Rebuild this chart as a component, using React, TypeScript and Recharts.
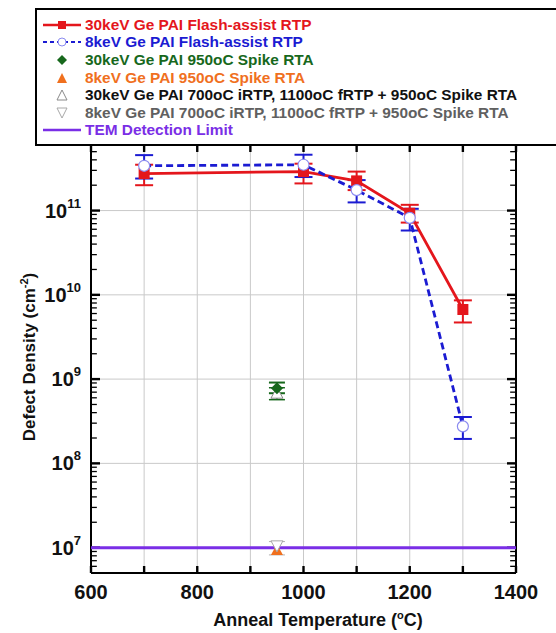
import { ComposedChart, Scatter, XAxis, YAxis, ErrorBar, ReferenceLine } from "recharts";

// flash-assist RTP series (same temperatures for both implants)
const flashTemps = [700, 1000, 1100, 1200, 1300];
const flash30 = [2.75e11, 2.9e11, 2.25e11, 9.3e10, 6.7e9];
const flash30Lo = [2.0e11, 2.1e11, 1.75e11, 7.2e10, 4.7e9];
const flash30Hi = [3.5e11, 3.6e11, 2.9e11, 1.17e11, 8.6e9];
const flash8 = [3.4e11, 3.5e11, 1.75e11, 8.2e10, 2.75e8];
const flash8Lo = [2.4e11, 2.5e11, 1.25e11, 5.8e10, 1.95e8];
const flash8Hi = [4.55e11, 4.6e11, 2.3e11, 1.05e11, 3.55e8];

// 950oC spike RTA points
const spikeTemp = 950;
const spike30 = 7.8e8;
const spike30Lo = 6.8e8;
const spike30Hi = 9.1e8;
const spike8 = 9.4e6;
const irtp30 = 6.8e8;
const irtp30Lo = 5.7e8;
const irtp30Hi = 7.9e8;
const irtp8 = 1.05e7;
const irtp8Lo = 8.2e6;
const irtp8Hi = 1.18e7;

const temLimit = 1e7;
const xDomain = [600, 1400];

const xTicks = [600, 700, 800, 900, 1000, 1100, 1200, 1300, 1400];
const xLabelTicks = [600, 800, 1000, 1200, 1400];
const xGrid = [700, 800, 900, 1000, 1100, 1200, 1300];
const decades = [1e7, 1e8, 1e9, 1e10, 1e11];
const minorSteps = [2, 3, 4, 5, 6, 7, 8, 9];
const yDomain = [5e6, 6e11];

const yMinor = [1e6, ...decades]
  .flatMap((d) => minorSteps.map((m) => m * d))
  .filter((v) => v >= yDomain[0] && v <= yDomain[1]);

// tick mark lengths in data units (temperature for y ticks, log factor for x ticks)
const majorTickLen = 17;
const minorTickLen = 11;
const xTickFactor = 1.21;

const RED = "#e4161c";
const BLUE = "#1b1bd2";
const GREEN = "#17681c";
const ORANGE = "#f0701e";
const PURPLE = "#7a2ee6";
const FONT = "'Liberation Sans', Arial, sans-serif";

function withErr(x: number[], y: number[], lo: number[], hi: number[]) {
  return x.map((t, i) => ({ x: t, y: y[i], err: [y[i] - lo[i], hi[i] - y[i]] }));
}

const flash30Data = withErr(flashTemps, flash30, flash30Lo, flash30Hi);
const flash8Data = withErr(flashTemps, flash8, flash8Lo, flash8Hi);
const spike30Data = [{ x: spikeTemp, y: spike30, err: [spike30 - spike30Lo, spike30Hi - spike30] }];
const spike8Data = [{ x: spikeTemp, y: spike8 }];
const irtp30Data = [{ x: spikeTemp, y: irtp30, err: [irtp30 - irtp30Lo, irtp30Hi - irtp30] }];
const irtp8Data = [{ x: spikeTemp, y: irtp8, err: [irtp8 - irtp8Lo, irtp8Hi - irtp8] }];
const temData = xDomain.map((t) => ({ x: t, y: temLimit }));

function Square({ cx, cy }: any) {
  return <rect x={cx - 5.5} y={cy - 5.5} width={11} height={11} fill={RED} />;
}
function OpenCircle({ cx, cy }: any) {
  return <circle cx={cx} cy={cy} r={5.5} fill="#fff" stroke="#8b8bf0" strokeWidth={1.2} />;
}
function Diamond({ cx, cy }: any) {
  return <polygon points={`${cx},${cy - 6} ${cx + 6},${cy} ${cx},${cy + 6} ${cx - 6},${cy}`} fill={GREEN} />;
}
function TriUp({ cx, cy }: any) {
  return <polygon points={`${cx},${cy - 6} ${cx + 6},${cy + 5} ${cx - 6},${cy + 5}`} fill={ORANGE} />;
}
function OpenTriUp({ cx, cy }: any) {
  return <polygon points={`${cx},${cy - 6} ${cx + 6},${cy + 5} ${cx - 6},${cy + 5}`} fill="#fff" stroke="#8a8a8a" strokeWidth={1} />;
}
function OpenTriDown({ cx, cy }: any) {
  return <polygon points={`${cx},${cy + 6} ${cx + 6},${cy - 5} ${cx - 6},${cy - 5}`} fill="#fff" stroke="#a8a8a8" strokeWidth={1} />;
}
const Nothing = () => <g />;

function BottomLabel({ x, y, payload }: any) {
  if (!xLabelTicks.includes(payload.value)) return <g />;
  return (
    <text x={x} y={y + 26} textAnchor="middle" fontFamily={FONT} fontWeight="bold" fontSize={20} fill="#111">
      {payload.value}
    </text>
  );
}
function LeftLabel({ x, y, payload }: any) {
  const exp = Math.round(Math.log10(payload.value));
  return (
    <text x={x - 10} y={y + 7} textAnchor="end" fontFamily={FONT} fontWeight="bold" fontSize={20} fill="#111">
      10
      <tspan dy={-10} fontSize={13}>
        {exp}
      </tspan>
    </text>
  );
}

function LegendIcon({ kind }: { kind: string }) {
  const c = 20;
  const m = 7;
  return (
    <svg width={40} height={14} style={{ display: "block" }}>
      {kind === "red" && (
        <>
          <line x1={1} x2={39} y1={m} y2={m} stroke={RED} strokeWidth={2.5} />
          <rect x={c - 4} y={m - 4} width={8} height={8} fill={RED} />
        </>
      )}
      {kind === "blue" && (
        <>
          <line x1={1} x2={39} y1={m} y2={m} stroke={BLUE} strokeWidth={2} strokeDasharray="4 3" />
          <circle cx={c} cy={m} r={4} fill="#fff" stroke="#8b8bf0" strokeWidth={1} />
        </>
      )}
      {kind === "green" && <polygon points={`${c},${m - 5} ${c + 5},${m} ${c},${m + 5} ${c - 5},${m}`} fill={GREEN} />}
      {kind === "orange" && <polygon points={`${c},${m - 5} ${c + 5},${m + 5} ${c - 5},${m + 5}`} fill={ORANGE} />}
      {kind === "open" && (
        <polygon points={`${c},${m - 5} ${c + 5},${m + 5} ${c - 5},${m + 5}`} fill="#fff" stroke="#8a8a8a" strokeWidth={1} />
      )}
      {kind === "down" && (
        <polygon points={`${c},${m + 5} ${c + 5},${m - 5} ${c - 5},${m - 5}`} fill="#fff" stroke="#a8a8a8" strokeWidth={1} />
      )}
      {kind === "tem" && <line x1={1} x2={39} y1={m} y2={m} stroke={PURPLE} strokeWidth={2.5} />}
    </svg>
  );
}

const legendRows = [
  { kind: "red", color: RED, label: "30keV Ge PAI Flash-assist RTP" },
  { kind: "blue", color: BLUE, label: "8keV Ge PAI Flash-assist RTP" },
  { kind: "green", color: GREEN, label: "30keV Ge PAI 950oC Spike RTA" },
  { kind: "orange", color: ORANGE, label: "8keV Ge PAI 950oC Spike RTA" },
  { kind: "open", color: "#111", label: "30keV Ge PAI 700oC iRTP, 1100oC fRTP + 950oC Spike RTA" },
  { kind: "down", color: "#606060", label: "8keV Ge PAI 700oC iRTP, 1100oC fRTP + 950oC Spike RTA" },
  { kind: "tem", color: PURPLE, label: "TEM Detection Limit" },
];

const logAxis = {
  type: "number" as const,
  scale: "log" as const,
  domain: yDomain,
  allowDataOverflow: true,
  interval: 0,
};

function yTickSegments(v: number, major: boolean) {
  const len = major ? majorTickLen : minorTickLen;
  const w = major ? 2.4 : 1.3;
  return [
    <ReferenceLine
      key={`tl${v}`}
      xAxisId="b"
      yAxisId="l"
      ifOverflow="visible"
      segment={[{ x: xDomain[0], y: v }, { x: xDomain[0] + len, y: v }]}
      stroke="#000"
      strokeWidth={w}
    />,
    <ReferenceLine
      key={`tr${v}`}
      xAxisId="b"
      yAxisId="l"
      ifOverflow="visible"
      segment={[{ x: xDomain[1] - len, y: v }, { x: xDomain[1], y: v }]}
      stroke="#000"
      strokeWidth={w}
    />,
  ];
}

export default function App() {
  return (
    <div style={{ position: "fixed", left: 0, top: 0, width: 556, height: 633, overflow: "hidden", background: "#fff" }}>
      <ComposedChart width={556} height={633} margin={{ top: 145, right: 0, bottom: 0, left: 0 }}>
        {xGrid.map((v) => (
          <ReferenceLine key={`gx${v}`} xAxisId="b" yAxisId="l" x={v} stroke="#c9c9c9" strokeWidth={1} />
        ))}
        {decades.map((v) => (
          <ReferenceLine key={`gy${v}`} xAxisId="b" yAxisId="l" y={v} stroke="#c9c9c9" strokeWidth={1} />
        ))}
        <XAxis
          xAxisId="b"
          dataKey="x"
          type="number"
          domain={xDomain}
          ticks={xTicks}
          interval={0}
          height={60}
          tickSize={0}
          tickMargin={0}
          tickLine={false}
          axisLine={{ stroke: "#000", strokeWidth: 2 }}
          tick={<BottomLabel />}
        />
        <XAxis
          xAxisId="t"
          orientation="top"
          type="number"
          domain={xDomain}
          height={0}
          tickLine={false}
          axisLine={{ stroke: "#000", strokeWidth: 2 }}
          tick={false}
        />
        <YAxis
          yAxisId="l"
          dataKey="y"
          {...logAxis}
          ticks={decades}
          width={91}
          tickSize={0}
          tickMargin={0}
          tickLine={false}
          axisLine={{ stroke: "#000", strokeWidth: 2 }}
          tick={<LeftLabel />}
        />
        <YAxis
          yAxisId="r"
          orientation="right"
          {...logAxis}
          ticks={decades}
          width={40}
          tickLine={false}
          axisLine={{ stroke: "#000", strokeWidth: 2 }}
          tick={false}
        />
        <Scatter
          xAxisId="b"
          yAxisId="l"
          data={temData}
          line={{ stroke: PURPLE, strokeWidth: 3, fill: "none" }}
          shape={<Nothing />}
          isAnimationActive={false}
        />
        <Scatter
          xAxisId="b"
          yAxisId="l"
          data={flash30Data}
          line={{ stroke: RED, strokeWidth: 2.8, fill: "none" }}
          shape={<Square />}
          isAnimationActive={false}
        >
          <ErrorBar dataKey="err" direction="y" width={9} stroke={RED} strokeWidth={2} isAnimationActive={false} />
        </Scatter>
        <Scatter
          xAxisId="b"
          yAxisId="l"
          data={flash8Data}
          line={{ stroke: BLUE, strokeWidth: 2.8, strokeDasharray: "7 4", fill: "none" }}
          shape={<OpenCircle />}
          isAnimationActive={false}
        >
          <ErrorBar dataKey="err" direction="y" width={9} stroke={BLUE} strokeWidth={2} isAnimationActive={false} />
        </Scatter>
        <Scatter xAxisId="b" yAxisId="l" data={spike8Data} shape={<TriUp />} isAnimationActive={false} />
        <Scatter xAxisId="b" yAxisId="l" data={irtp8Data} shape={<OpenTriDown />} isAnimationActive={false}>
          <ErrorBar dataKey="err" direction="y" width={8} stroke="#b0b0b0" strokeWidth={1} isAnimationActive={false} />
        </Scatter>
        <Scatter xAxisId="b" yAxisId="l" data={irtp30Data} shape={<OpenTriUp />} isAnimationActive={false}>
          <ErrorBar dataKey="err" direction="y" width={8} stroke={GREEN} strokeWidth={1.5} isAnimationActive={false} />
        </Scatter>
        <Scatter xAxisId="b" yAxisId="l" data={spike30Data} shape={<Diamond />} isAnimationActive={false}>
          <ErrorBar dataKey="err" direction="y" width={8} stroke={GREEN} strokeWidth={2} isAnimationActive={false} />
        </Scatter>
        {decades.flatMap((v) => yTickSegments(v, true))}
        {yMinor.flatMap((v) => yTickSegments(v, false))}
        {xTicks.map((t) => (
          <ReferenceLine
            key={`tb${t}`}
            xAxisId="b"
            yAxisId="l"
            ifOverflow="visible"
            segment={[{ x: t, y: yDomain[0] }, { x: t, y: yDomain[0] * xTickFactor }]}
            stroke="#000"
            strokeWidth={2.4}
          />
        ))}
        {xTicks.map((t) => (
          <ReferenceLine
            key={`tt${t}`}
            xAxisId="b"
            yAxisId="l"
            ifOverflow="visible"
            segment={[{ x: t, y: yDomain[1] / xTickFactor }, { x: t, y: yDomain[1] }]}
            stroke="#000"
            strokeWidth={2.4}
          />
        ))}
      </ComposedChart>

      <div
        style={{
          position: "absolute",
          left: 35,
          top: 8,
          width: 600,
          height: 138,
          boxSizing: "border-box",
          border: "2px solid #000",
          background: "#fff",
          paddingTop: 6,
          fontFamily: FONT,
          fontWeight: "bold",
          fontSize: 15.4,
        }}
      >
        {legendRows.map((r) => (
          <div key={r.label} style={{ display: "flex", alignItems: "center", height: 17.6, whiteSpace: "nowrap" }}>
            <div style={{ marginLeft: 5, marginRight: 3 }}>
              <LegendIcon kind={r.kind} />
            </div>
            <span style={{ color: r.color }}>{r.label}</span>
          </div>
        ))}
      </div>

      <div
        style={{
          position: "absolute",
          left: 29,
          top: 357,
          transform: "translate(-50%, -50%) rotate(-90deg)",
          whiteSpace: "nowrap",
          fontFamily: FONT,
          fontWeight: "bold",
          fontSize: 17,
          color: "#111",
        }}
      >
        Defect Density (cm<sup style={{ fontSize: 11 }}>-2</sup>)
      </div>
      <div
        style={{
          position: "absolute",
          left: 318,
          top: 620,
          transform: "translate(-50%, -50%)",
          whiteSpace: "nowrap",
          fontFamily: FONT,
          fontWeight: "bold",
          fontSize: 18,
          color: "#111",
        }}
      >
        Anneal Temperature (<sup style={{ fontSize: 11 }}>o</sup>C)
      </div>
    </div>
  );
}
